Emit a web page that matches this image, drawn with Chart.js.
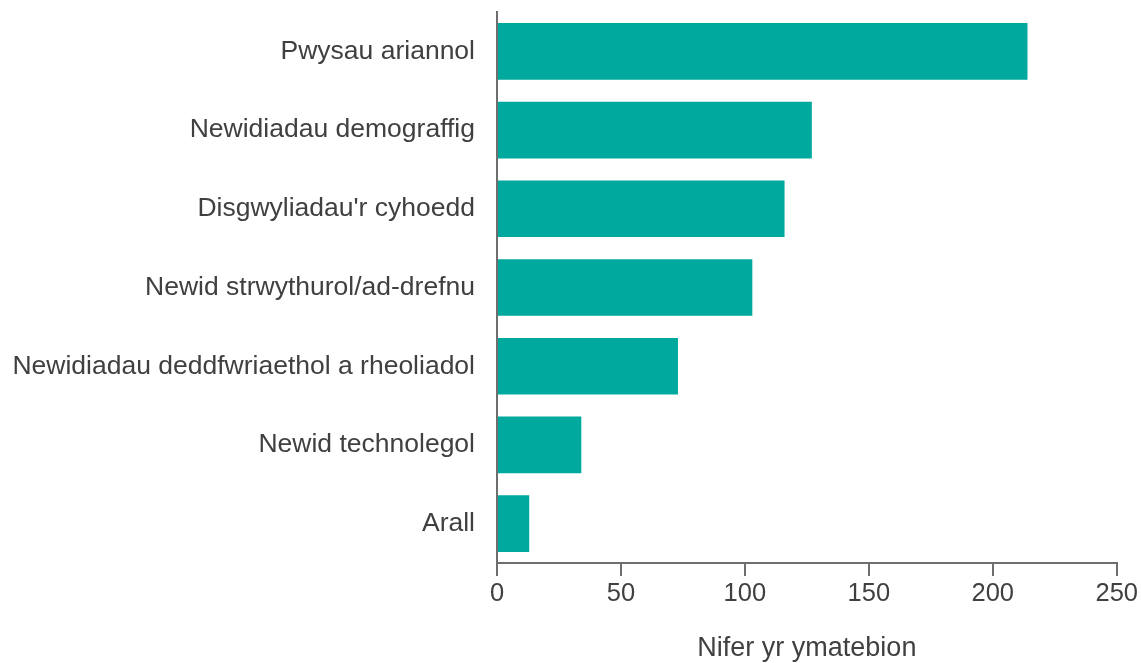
<!DOCTYPE html>
<html>
<head>
<meta charset="utf-8">
<script src="https://cdn.jsdelivr.net/npm/chart.js@4"></script>
<style>
  html, body { margin: 0; padding: 0; background: #fff; }
  #wrap { width: 1141px; height: 663px; position: relative; }
</style>
</head>
<body>
<div id="wrap"><canvas id="chart"></canvas></div>
<script>
/* ── Data ─────────────────────────────────────────────────────── */
var categories = [
  "Pwysau ariannol",
  "Newidiadau demograffig",
  "Disgwyliadau'r cyhoedd",
  "Newid strwythurol/ad-drefnu",
  "Newidiadau deddfwriaethol a rheoliadol",
  "Newid technolegol",
  "Arall"
];
var responses = [214, 127, 116, 103, 73, 34, 13];
var xTicks = [0, 50, 100, 150, 200, 250];
var xTitle = "Nifer yr ymatebion";

/* ── Chart ────────────────────────────────────────────────────── */
var TEXT = "#404040";
var AXIS = "#6e6e6e";
var FONT = "Arial, 'Liberation Sans', sans-serif";

new Chart(document.getElementById("chart").getContext("2d"), {
  type: "bar",
  data: {
    labels: categories,
    datasets: [{
      data: responses,
      backgroundColor: "#00a99d",
      borderWidth: 0,
      categoryPercentage: 0.72,
      barPercentage: 1.0
    }]
  },
  options: {
    indexAxis: "y",
    responsive: true,
    maintainAspectRatio: false,
    animation: false,
    layout: { padding: { left: 0, right: 24, top: 0, bottom: 0 } },
    plugins: { legend: { display: false }, tooltip: { enabled: false } },
    scales: {
      x: {
        min: 0,
        max: 250,
        afterBuildTicks: function (s) { s.ticks = xTicks.map(function (v) { return { value: v }; }); },
        afterFit: function (s) { s.height = 100; },
        border: { display: true, color: AXIS, width: 2 },
        grid: { drawOnChartArea: false, drawTicks: true, tickLength: 13, color: AXIS, lineWidth: 2 },
        ticks: { color: TEXT, font: { family: FONT, size: 25.5 }, padding: 3, maxRotation: 0 },
        title: { display: true, text: xTitle, color: TEXT, font: { family: FONT, size: 27 }, padding: { top: 0, bottom: -2 } }
      },
      y: {
        afterFit: function (s) { s.width = 497; s.paddingTop = 12; },
        border: { display: true, color: AXIS, width: 2 },
        grid: { display: true, drawOnChartArea: false, drawTicks: false },
        ticks: { color: TEXT, font: { family: FONT, size: 26.5 }, padding: 22 }
      }
    }
  }
});
</script>
</body>
</html>
